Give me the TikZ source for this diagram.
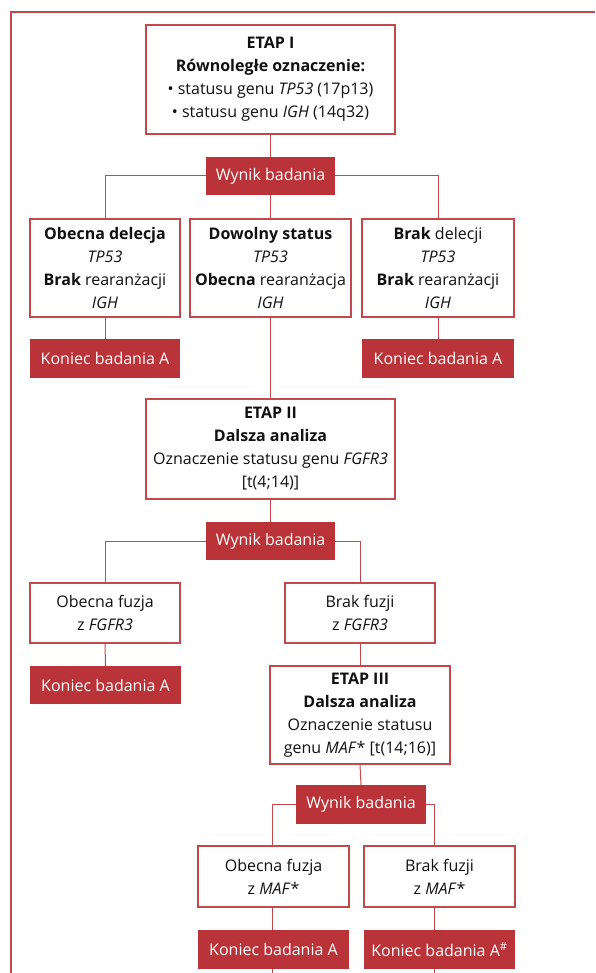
\documentclass[tikz,border=0pt]{standalone}
\usepackage{fontspec}
\setmainfont{Open Sans}
\definecolor{rd}{HTML}{B93338}
\definecolor{ln}{HTML}{C4474C}
\definecolor{tx}{HTML}{111111}
\begin{document}
\begin{tikzpicture}[x=1pt,y=-1pt,
  box/.style={draw=ln,line width=1.2pt,fill=white,align=center,text=tx,inner sep=0pt,
    font=\fontsize{16}{23}\selectfont},
  res/.style={fill=rd,text=white,inner sep=0pt,align=center,font=\fontsize{16}{23}\selectfont},
  con/.style={draw=ln,line width=1pt}]
\useasboundingbox (0,0) rectangle (595,973);
% partial frame
\draw[ln,line width=1.2pt] (11,973) -- (11,12) -- (595,12);

\node[box,minimum width=249pt,minimum height=109pt] (e1) at (270.5,79.5)
 {\textbf{ETAP I}\\\textbf{Równoległe oznaczenie:}\\• statusu genu \textit{TP53} (17p13)\\• statusu genu \textit{IGH} (14q32)};
\node[res,minimum width=129pt,minimum height=38pt] (w1) at (270.5,176) {Wynik badania};

\node[box,minimum width=150pt,minimum height=98pt] (b1) at (105,268)
 {\textbf{Obecna delecja}\\\textit{TP53}\\\textbf{Brak} rearanżacji\\\textit{IGH}};
\node[box,minimum width=161pt,minimum height=98pt] (b2) at (270.5,268)
 {\textbf{Dowolny status}\\\textit{TP53}\\\textbf{Obecna} rearanżacja\\\textit{IGH}};
\node[box,minimum width=152pt,minimum height=98pt] (b3) at (438,268)
 {\textbf{Brak} delecji\\\textit{TP53}\\\textbf{Brak} rearanżacji\\\textit{IGH}};

\node[res,minimum width=150pt,minimum height=39pt] (k1) at (105,358.5) {Koniec badania A};
\node[res,minimum width=152pt,minimum height=39pt] (k3) at (438,358.5) {Koniec badania A};

\node[box,minimum width=249pt,minimum height=100pt] (e2) at (270.5,449)
 {\textbf{ETAP II}\\\textbf{Dalsza analiza}\\Oznaczenie statusu genu \textit{FGFR3}\\{[t(4;14)]}};
\node[res,minimum width=129pt,minimum height=38pt] (w2) at (270.5,541) {Wynik badania};

\node[box,minimum width=150pt,minimum height=60pt] (f1) at (105,613)
 {Obecna fuzja\\z \textit{FGFR3}};
\node[box,minimum width=150pt,minimum height=60pt] (f2) at (360,613)
 {Brak fuzji\\z \textit{FGFR3}};

\node[res,minimum width=151pt,minimum height=38pt] (k4) at (105.5,685) {Koniec badania A};

\node[box,minimum width=180pt,minimum height=98pt] (e3) at (360,715)
 {\textbf{ETAP III}\\\textbf{Dalsza analiza}\\Oznaczenie statusu\\genu \textit{MAF}* [t(14;16)]};
\node[res,minimum width=130pt,minimum height=39pt] (w3) at (361,804.5) {Wynik badania};

\node[box,minimum width=151pt,minimum height=61pt] (m1) at (273.5,876.5)
 {Obecna fuzja\\z \textit{MAF}*};
\node[box,minimum width=151pt,minimum height=61pt] (m2) at (439.5,876.5)
 {Brak fuzji\\z \textit{MAF}*};

\node[res,minimum width=151pt,minimum height=39pt] (k5) at (273.5,949.5) {Koniec badania A};
\node[res,minimum width=151pt,minimum height=39pt] (k6) at (439.5,949.5) {Koniec badania A\textsuperscript{\#}};

\coordinate (s5) at ([xshift=-1.5pt]k5.south |- 0,973);
\coordinate (s6) at ([xshift=-5.5pt]k6.south |- 0,973);

% connectors
\draw[con] (e1.south) -- (w1.north);
\draw[con] (w1.west) -| (b1.north);
\draw[con] (w1.east) -| (b3.north);
\draw[con] (w1.south) -- (b2.north);
\draw[con] (b1.south) -- (k1.north);
\draw[con] (b3.south) -- (k3.north);
\draw[con] (b2.south) -- (e2.north);
\draw[con] (e2.south) -- (w2.north);
\draw[con] (w2.west) -| (f1.north);
\draw[con] (w2.east) -| (f2.north);
\draw[con] (f1.south) -- (k4.north);
\draw[con] (f2.south) -- (e3.north);
\draw[con] (e3.south) -- (w3.north);
\draw[con] (w3.west) -| ([xshift=-1.5pt]m1.north);
\draw[con] (w3.east) -| ([xshift=-5.5pt]m2.north);
\draw[con] ([xshift=-1.5pt]m1.south) -- ([xshift=-1.5pt]k5.north);
\draw[con] ([xshift=-5.5pt]m2.south) -- ([xshift=-5.5pt]k6.north);
\draw[con] ([xshift=-1.5pt]k5.south) -- (s5);
\draw[con] ([xshift=-5.5pt]k6.south) -- (s6);
\end{tikzpicture}
\end{document}
